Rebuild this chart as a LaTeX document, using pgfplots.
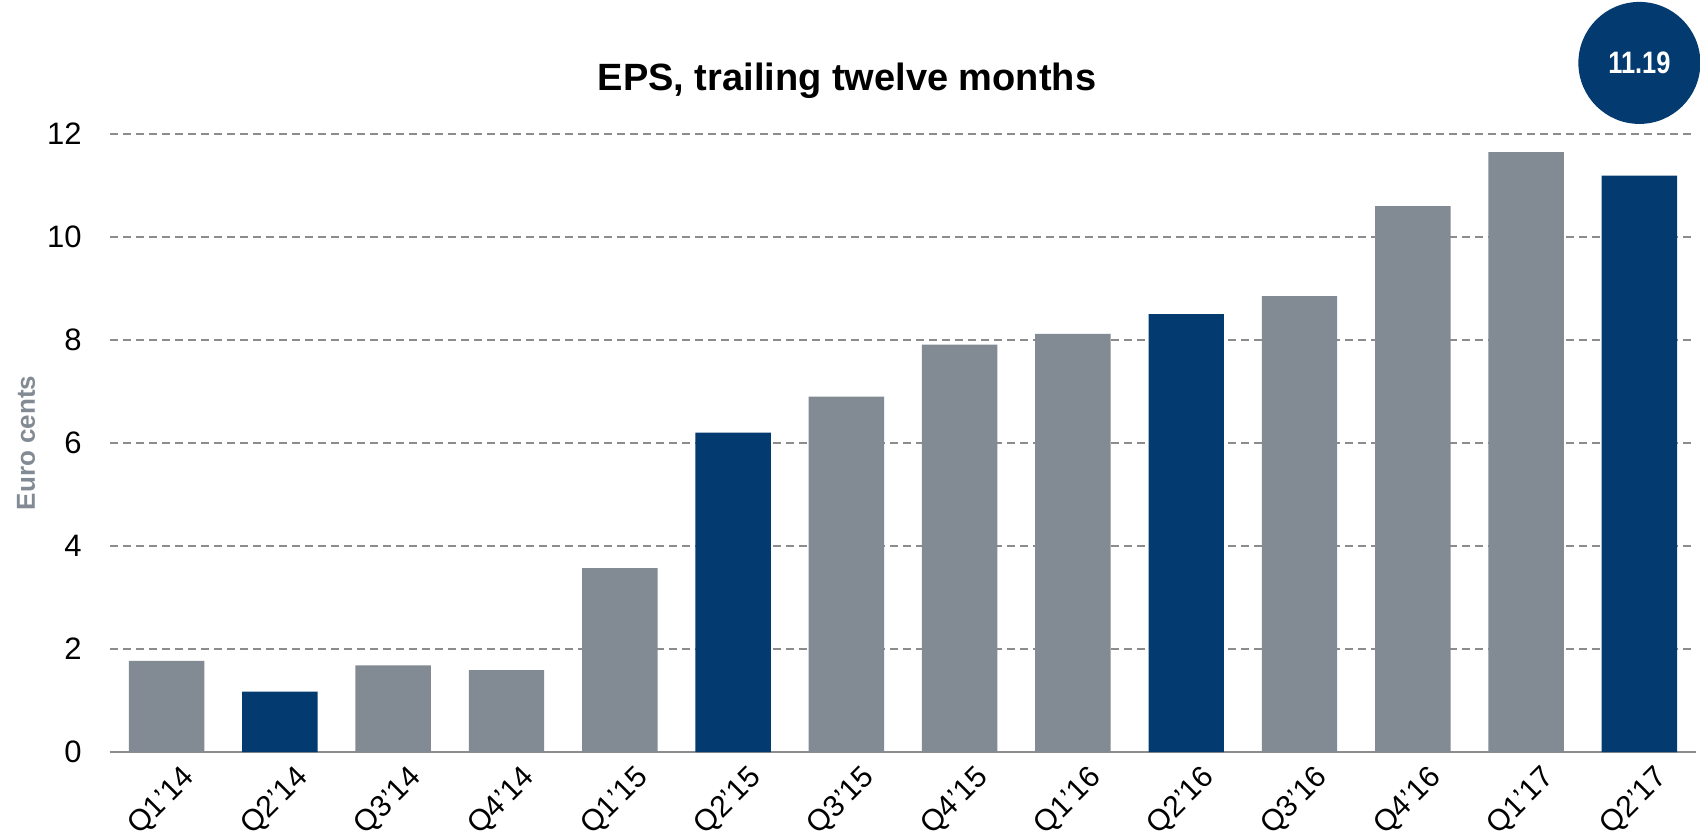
\documentclass[border=0pt]{standalone}
\usepackage{pgfplots}
\pgfplotsset{compat=1.18}
\usepackage{fontspec}
\setmainfont{Liberation Sans}
\definecolor{barGray}{HTML}{828A93}
\definecolor{barNavy}{HTML}{033A70}
\definecolor{gridGray}{HTML}{8C8C8C}
\begin{document}
\begin{tikzpicture}
\begin{axis}[
  at={(0,0)}, anchor=south west,
  scale only axis, width=793pt, height=309pt,
  xmin=-0.5, xmax=13.5, ymin=0, ymax=12,
  clip=false,
  axis x line*=bottom, axis y line*=left,
  x axis line style={gridGray, line width=1pt, -},
  y axis line style={draw=none},
  major tick length=0pt,
  xtick={0,...,13},
  xticklabels={Q1'14,Q2'14,Q3'14,Q4'14,Q1'15,Q2'15,Q3'15,Q4'15,Q1'16,Q2'16,Q3'16,Q4'16,Q1'17,Q2'17},
  xticklabel style={rotate=45, anchor=east, inner sep=0pt, yshift=-16pt, xshift=1pt, font=\fontsize{15}{15}\selectfont},
  ytick={0,2,...,12},
  yticklabel style={anchor=east, inner sep=0pt, xshift=-14pt, font=\fontsize{15.5}{15.5}\selectfont},
  /pgf/number format/assume math mode=true,
  ymajorgrids,
  major grid style={dashed, dash pattern=on 4pt off 2.5pt, gridGray, line width=0.8pt},
  ylabel={Euro cents},
  every axis y label/.style={at={(axis description cs:0,0.5)}, xshift=-42pt, rotate=90, anchor=center,
     font=\bfseries\fontsize{13}{13}\selectfont, text=barGray},
  bar width=0.666, bar shift=0pt,
]
\addplot[ybar, fill=barGray, draw=none] coordinates {
  (0,1.77) (2,1.68) (3,1.59) (4,3.57) (6,6.90) (7,7.91) (8,8.12) (10,8.85) (11,10.60) (12,11.65)
};
\addplot[ybar, fill=barNavy, draw=none] coordinates {
  (1,1.17) (5,6.20) (9,8.50) (13,11.19)
};
\node[circle, fill=barNavy, minimum size=61pt, inner sep=0pt, text=white,
      font=\bfseries\fontsize{15.5}{15.5}\selectfont] at (axis cs:13,13.38) {\scalebox{0.82}[1]{11.19}};
\end{axis}
\node[anchor=base, font=\bfseries\fontsize{19}{19}\selectfont] at (368.5pt,330.5pt) {EPS, trailing twelve months};
\pgfresetboundingbox
\path[use as bounding box] (-55pt,-41.5pt) rectangle (795pt,376pt);
\end{tikzpicture}
\end{document}
